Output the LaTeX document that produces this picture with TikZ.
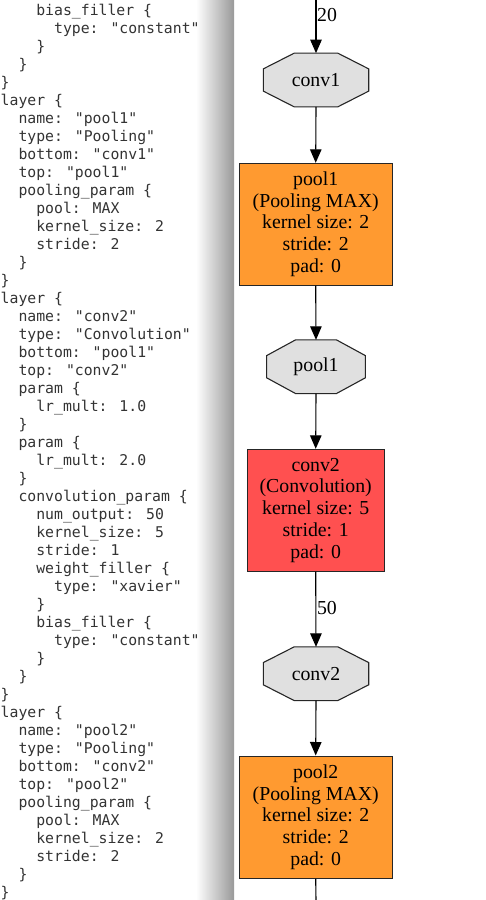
\documentclass[tikz,border=0pt]{standalone}
\usepackage{fontspec}
\setmainfont{Liberation Serif}
\newfontfamily\codefont{DejaVu Sans Mono}
\usetikzlibrary{arrows.meta,calc,backgrounds}
\definecolor{poolc}{HTML}{FF9A30}
\definecolor{convc}{HTML}{FF5050}
\definecolor{blobc}{HTML}{E0E0E0}
\definecolor{codec}{HTML}{333333}
\newcommand\qq{\char34\relax}
\newcommand\cl[3]{\node[codeline] (l#1) at ({0.5+8.9*#2}, {15+18*(#1-1)}) {#3};}
\newcommand\octa[1]{%
  \begin{pgfonlayer}{background}
  \draw[blobline] ($(#1.north west)!0.293!(#1.north east)$) -- ($(#1.north east)!0.293!(#1.north west)$)
   -- ($(#1.north east)!0.293!(#1.south east)$) -- ($(#1.south east)!0.293!(#1.north east)$)
   -- ($(#1.south east)!0.293!(#1.south west)$) -- ($(#1.south west)!0.293!(#1.south east)$)
   -- ($(#1.south west)!0.293!(#1.north west)$) -- ($(#1.north west)!0.293!(#1.south west)$) -- cycle;
  \end{pgfonlayer}}
\tikzset{
  codeline/.style={anchor=base west, inner sep=0pt, font=\codefont\fontsize{14.8}{18}\selectfont, text=codec},
  blob/.style={draw=none, inner sep=0pt, font=\fontsize{19.8}{21.7}\selectfont, minimum height=53.3pt},
  blobline/.style={draw=black!85, line width=1.1pt, fill=blobc},
  layerbox/.style={draw=black!85, line width=1.1pt, inner sep=0pt, align=center,
    font=\fontsize{19.8}{21.7}\selectfont, minimum height=121.7pt},
  poolbox/.style={layerbox, fill=poolc, minimum width=152.7pt},
  convbox/.style={layerbox, fill=convc, minimum width=136.7pt},
  edge/.style={draw=black, line width=1.1pt, -{Triangle[length=13.5pt,width=11.5pt]}},
  plain/.style={draw=black, line width=1.1pt},
  lbl/.style={right, inner sep=0.6pt, font=\fontsize{19.8}{21.7}\selectfont}
}
\begin{document}
\begin{tikzpicture}[x=1pt,y=-1pt]
\useasboundingbox (0,0) rectangle (486,900);
\shade[left color=white, right color=black!40] (196,0) rectangle (234,900);
% code pane
\cl{1}{4}{bias\_filler \{}
\cl{2}{6}{type: \qq constant\qq}
\cl{3}{4}{\}}
\cl{4}{2}{\}}
\cl{5}{0}{\}}
\cl{6}{0}{layer \{}
\cl{7}{2}{name: \qq pool1\qq}
\cl{8}{2}{type: \qq Pooling\qq}
\cl{9}{2}{bottom: \qq conv1\qq}
\cl{10}{2}{top: \qq pool1\qq}
\cl{11}{2}{pooling\_param \{}
\cl{12}{4}{pool: MAX}
\cl{13}{4}{kernel\_size: 2}
\cl{14}{4}{stride: 2}
\cl{15}{2}{\}}
\cl{16}{0}{\}}
\cl{17}{0}{layer \{}
\cl{18}{2}{name: \qq conv2\qq}
\cl{19}{2}{type: \qq Convolution\qq}
\cl{20}{2}{bottom: \qq pool1\qq}
\cl{21}{2}{top: \qq conv2\qq}
\cl{22}{2}{param \{}
\cl{23}{4}{lr\_mult: 1.0}
\cl{24}{2}{\}}
\cl{25}{2}{param \{}
\cl{26}{4}{lr\_mult: 2.0}
\cl{27}{2}{\}}
\cl{28}{2}{convolution\_param \{}
\cl{29}{4}{num\_output: 50}
\cl{30}{4}{kernel\_size: 5}
\cl{31}{4}{stride: 1}
\cl{32}{4}{weight\_filler \{}
\cl{33}{6}{type: \qq xavier\qq}
\cl{34}{4}{\}}
\cl{35}{4}{bias\_filler \{}
\cl{36}{6}{type: \qq constant\qq}
\cl{37}{4}{\}}
\cl{38}{2}{\}}
\cl{39}{0}{\}}
\cl{40}{0}{layer \{}
\cl{41}{2}{name: \qq pool2\qq}
\cl{42}{2}{type: \qq Pooling\qq}
\cl{43}{2}{bottom: \qq conv2\qq}
\cl{44}{2}{top: \qq pool2\qq}
\cl{45}{2}{pooling\_param \{}
\cl{46}{4}{pool: MAX}
\cl{47}{4}{kernel\_size: 2}
\cl{48}{4}{stride: 2}
\cl{49}{2}{\}}
\cl{50}{0}{\}}
% graph pane
\coordinate (top) at (316,0);
\coordinate (bot) at (316,900);
\node[blob, minimum width=105pt] (conv1) at (316,80) {conv1};
\octa{conv1}
\node[poolbox] (pool1L) at (315.7,224.2) {pool1\\(Pooling MAX)\\kernel size: 2\\stride: 2\\pad: 0};
\node[blob, minimum width=98.3pt] (pool1) at (316,366.7) {pool1};
\octa{pool1}
\node[convbox] (conv2L) at (315.7,510.2) {conv2\\(Convolution)\\kernel size: 5\\stride: 1\\pad: 0};
\node[blob, minimum width=105pt] (conv2) at (316,673.7) {conv2};
\octa{conv2}
\node[poolbox, minimum height=122.3pt] (pool2L) at (315.7,817.2) {pool2\\(Pooling MAX)\\kernel size: 2\\stride: 2\\pad: 0};
\draw[edge] (top) -- node[lbl, pos=0.28] {20} (conv1.north);
\draw[edge] (conv1.south) -- (pool1L.north);
\draw[edge] (pool1L.south) -- (pool1.north);
\draw[edge] (pool1.south) -- (conv2L.north);
\draw[edge] (conv2L.south) -- node[lbl, pos=0.49] {50} (conv2.north);
\draw[edge] (conv2.south) -- (pool2L.north);
\draw[plain] (pool2L.south) -- (bot);
\end{tikzpicture}
\end{document}
